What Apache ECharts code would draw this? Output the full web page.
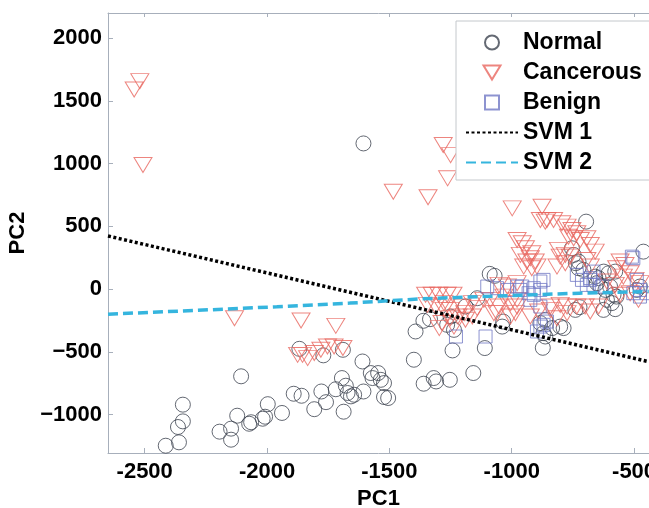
<!DOCTYPE html>
<html>
<head>
<meta charset="utf-8">
<script src="https://cdn.jsdelivr.net/npm/echarts@6/dist/echarts.min.js"></script>
<style>
html,body{margin:0;padding:0;background:#fff;}
#c{width:649px;height:508px;}
</style>
</head>
<body>
<div id="c"></div>
<script>
var seriesNames = ['Normal', 'Cancerous', 'Benign', 'SVM 1', 'SVM 2'];
var xRange = [-2650, -439];
var yRange = [-1305, 2200];

var normalPts = [
[-1606,1161],
[-2344,-920],[-2344,-1053],[-2364,-1098],[-2360,-1220],[-2414,-1247],
[-2106,-694],[-2194,-1135],[-2147,-1111],[-2147,-1199],[-2122,-1008],
[-2073,-1072],[-2065,-1060],[-2018,-1032],[-2008,-1016],[-1997,-916],
[-1939,-986],[-1891,-833],[-1859,-849],[-1807,-956],[-1778,-815],[-1759,-900],
[-1719,-797],[-1694,-708],[-1687,-976],[-1671,-827],[-1657,-854],
[-1868,-475],[-1770,-527],[-1690,-483],
[-1678,-769],[-1644,-841],[-1610,-576],[-1606,-815],[-1576,-668],[-1569,-708],
[-1546,-668],[-1535,-722],[-1522,-859],[-1505,-867],[-1522,-748],
[-1393,-337],[-1361,-252],[-1334,-239],[-1400,-562],[-1360,-753],[-1319,-708],[-1309,-735],[-1253,-722],
[-1242,-488],[-1157,-668],[-1110,-469],[-1236,-324],
[-1090,122],[-1070,106],[-1141,-72],[-1189,-138],[-1250,-218],[-1264,-284],
[-1039,-298],[-1035,-258],
[-883,-270],[-870,-350],[-873,-467],[-788,-310],[-740,-165],
[-727,167],[-738,207],[-696,538],[-462,299],[-754,326],[-747,273],[-727,220],
[-707,154],[-659,100],[-645,88],[-624,140],[-604,127],[-577,140],
[-652,48],[-638,21],[-617,-6],[-598,21],[-584,-45],[-572,-59],[-611,-85],[-591,-111],[-577,-159],
[-723,-143],[-625,-165],[-802,-298],[-835,-310],[-863,-244],[-863,-377],[-489,-6],[-476,21]
];

var cancerPts = [
[-2520,1657],[-2543,1591],[-2507,989],
[-2133,-231],[-1861,-250],[-1719,-292],
[-1875,-523],[-1855,-523],[-1834,-549],[-1807,-509],[-1780,-483],[-1753,-457],[-1726,-457],[-1690,-469],
[-1280,1148],[-1250,1068],[-1262,883],[-1484,776],[-1342,732],
[-998,644],[-876,657],[-863,538],[-883,551],[-856,551],[-829,551],[-795,525],[-774,498],[-754,472],[-734,445],[-720,392],[-747,406],[-768,418],[-693,406],[-679,352],[-659,299],
[-978,392],[-957,366],[-944,326],[-918,286],[-965,273],[-924,247],[-904,220],[-938,220],[-951,180],[-918,167],[-897,180],
[-809,313],[-781,273],[-802,259],[-761,259],[-781,207],[-815,180],[-693,233],[-679,180],
[-557,220],[-537,193],[-571,167],[-516,127],[-544,100],[-496,74],[-476,48],[-611,61],[-577,34],[-516,-32],[-557,-45],[-482,-85],
[-802,-125],[-774,-138],[-700,-138],[-679,-178],[-645,-138],[-842,-138],
[-1052,34],[-1018,21],[-978,48],
[-1352,-45],[-1325,-45],[-1298,-45],[-1264,-45],[-1240,-45],[-1345,-125],[-1311,-138],[-1277,-165],[-1285,-270],[-1251,-231],[-1236,-298],
[-1277,-111],[-1250,-165],[-1203,-138],[-1161,-111],[-1141,-151],[-1114,-85],[-1087,-85],[-1052,-138],[-1073,-191],[-1032,-59],[-1005,-111],[-978,-85],[-985,-191],[-1161,-218],[-1189,-244],
[-1296,-310],[-1220,-218],[-1192,-191],[-1060,-191],[-1005,-218],[-978,-138],[-924,-218],[-890,-178],[-842,-165],[-815,-231],[-774,-191],[-734,-138]
];

var benignPts = [
[-1100,21],[-1060,8],[-978,21],[-965,-6],[-931,-32],[-883,61],[-883,-6],[-924,-85],[-883,-138],[-1019,-6],
[-1228,-377],[-1107,-377],[-883,-298],[-897,-337],
[-957,21],[-910,8],[-870,74],[-910,-45],[-856,-258],[-870,-284],
[-509,259],[-503,247],[-734,114],[-713,74],[-679,88],[-693,34],[-666,34],[-632,21],[-666,140],[-679,74],
[-503,-32],[-476,-59],[-489,74],[-476,-6],[-448,-32]
];

var svm1Pts = [[-2650,424],[-439,-578]];
var svm2Pts = [[-2650,-199],[-2300,-170],[-1960,-140],[-1662,-111],[-1372,-77],[-1128,-59],[-724,-32],[-440,-19]];

var FONT = "'Liberation Sans', Arial, sans-serif";
var AXC = '#a7afbb';

function xLab(v){ return (Math.round(v) % 500 === 0) ? String(Math.round(v)) : ''; }
function yLab(v){
  var r = Math.round(v);
  if (r % 500 !== 0) return '';
  return r < 0 ? '\u2212' + Math.abs(r) : String(r);
}

var hidden = {color: 'rgba(0,0,0,0)', borderColor: 'rgba(0,0,0,0)', borderWidth: 0};

var chart = echarts.init(document.getElementById('c'), null, {renderer:'canvas'});
var option = {
  animation: false,
  backgroundColor: '#fff',
  grid: {left: 108, top: 13, right: 0, bottom: 55, containLabel: false, outerBoundsMode: 'none'},
  xAxis: [{
    type: 'value', min: xRange[0], max: xRange[1], minInterval: 500, maxInterval: 500,
    position: 'bottom',
    name: 'PC1', nameLocation: 'middle', nameGap: 32,
    nameTextStyle: {fontFamily: FONT, fontWeight: 'bold', fontSize: 22, color: '#000'},
    axisLine: {show: true, onZero: false, lineStyle: {color: AXC, width: 1}},
    axisTick: {show: true, inside: true, length: 5, lineStyle: {color: AXC}},
    axisLabel: {show: true, margin: 8, formatter: xLab, fontFamily: FONT, fontWeight: 'bold', fontSize: 22, color: '#000', showMinLabel: false, showMaxLabel: false, hideOverlap: false},
    splitLine: {show: false}
  },{
    type: 'value', min: xRange[0], max: xRange[1], minInterval: 500, maxInterval: 500,
    position: 'top',
    axisLine: {show: true, onZero: false, lineStyle: {color: AXC, width: 1}},
    axisTick: {show: true, inside: true, length: 4, lineStyle: {color: AXC}},
    axisLabel: {show: false},
    splitLine: {show: false}
  }],
  yAxis: [{
    type: 'value', min: yRange[0], max: yRange[1], minInterval: 500, maxInterval: 500,
    name: 'PC2', nameLocation: 'middle', nameGap: 68,
    nameTextStyle: {fontFamily: FONT, fontWeight: 'bold', fontSize: 22, color: '#000'},
    axisLine: {show: true, onZero: false, lineStyle: {color: AXC, width: 1}},
    axisTick: {show: true, inside: true, length: 5, lineStyle: {color: AXC}},
    axisLabel: {show: true, margin: 6, formatter: yLab, fontFamily: FONT, fontWeight: 'bold', fontSize: 22, color: '#000', showMinLabel: false, showMaxLabel: false},
    splitLine: {show: false}
  }],
  legend: {
    orient: 'vertical', left: 456, top: 21,
    padding: [10, 16, 6, 9],
    itemGap: 7, itemWidth: 52, itemHeight: 14,
    symbolKeepAspect: true,
    backgroundColor: '#fff', borderColor: '#c4c8cc', borderWidth: 1,
    textStyle: {fontFamily: FONT, fontWeight: 'bold', fontSize: 23, color: '#000', lineHeight: 22},
    data: [
      {name: seriesNames[0], icon: 'circle'},
      {name: seriesNames[1], icon: 'path://M0,0L17,0L8.5,14Z', symbolRotate: 0},
      {name: seriesNames[2], icon: 'path://M0,0L12,0L12,12L0,12Z', symbolRotate: 0},
      {name: seriesNames[3], itemStyle: hidden},
      {name: seriesNames[4], itemStyle: hidden}
    ]
  },
  series: [
    {name: seriesNames[0], type: 'scatter', data: normalPts, symbol: 'circle', symbolSize: 15,
     itemStyle: {color: 'rgba(0,0,0,0)', borderColor: '#3d4450', borderWidth: 1}},
    {name: seriesNames[1], type: 'scatter', data: cancerPts, symbol: 'triangle', symbolSize: [18, 15], symbolRotate: 180,
     itemStyle: {color: 'rgba(0,0,0,0)', borderColor: '#e8675f', borderWidth: 1}},
    {name: seriesNames[2], type: 'scatter', data: benignPts, symbol: 'rect', symbolSize: 13,
     itemStyle: {color: 'rgba(0,0,0,0)', borderColor: '#7078c4', borderWidth: 1}},
    {name: seriesNames[3], type: 'line', data: svm1Pts, symbol: 'none', showSymbol: false,
     lineStyle: {color: '#000', width: 3.5, type: [3, 2.5]}, itemStyle: {color: '#000'}},
    {name: seriesNames[4], type: 'line', data: svm2Pts, symbol: 'none', showSymbol: false,
     lineStyle: {color: '#35b5de', width: 3.5, type: [10, 5]}, itemStyle: {color: '#35b5de'}}
  ]
};
chart.setOption(option);
</script>
</body>
</html>
